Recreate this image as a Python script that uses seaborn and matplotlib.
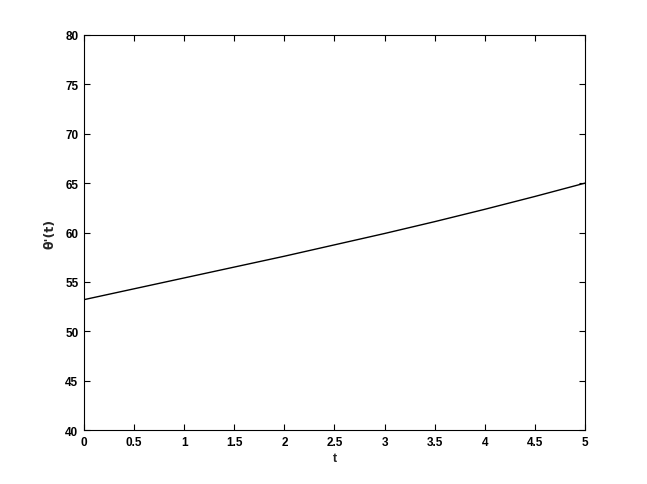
import numpy as np
import pandas as pd
import seaborn as sns
import matplotlib.pyplot as plt

# values
t = [0, 0.5, 1, 1.5, 2, 2.5, 3, 3.5, 4, 4.5, 5]
theta_dot = [53.2, 54.3, 55.4, 56.5, 57.6, 58.75, 59.9, 61.1, 62.35, 63.65, 65.0]
xticks = [0, 0.5, 1, 1.5, 2, 2.5, 3, 3.5, 4, 4.5, 5]
yticks = [40, 45, 50, 55, 60, 65, 70, 75, 80]

df = pd.DataFrame({'t': t, 'theta': theta_dot})

sns.set_style('white')
plt.rcParams['font.family'] = ['Liberation Sans', 'DejaVu Sans']

fig = plt.figure(figsize=(6.47, 4.85), dpi=100)
ax = fig.add_axes([0.1298, 0.1113, 0.7744, 0.8145])

sns.lineplot(data=df, x='t', y='theta', color='black', linewidth=1, ax=ax)

ax.set_xlim(0, 5)
ax.set_ylim(40, 80)
ax.set_xticks(xticks)
ax.set_xticklabels(['0', '0.5', '1', '1.5', '2', '2.5', '3', '3.5', '4', '4.5', '5'],
                   fontweight='bold', fontsize=8.5)
ax.set_yticks(yticks)
ax.set_yticklabels([str(v) for v in yticks], fontweight='bold', fontsize=8.5)
ax.tick_params(direction='in', length=4, width=0.8, top=True, right=True,
               bottom=True, left=True, colors='black', pad=4)
for s in ax.spines.values():
    s.set_color('black')
    s.set_linewidth(0.8)

ax.set_xlabel('t', fontweight='bold', fontsize=9, labelpad=3)
ax.set_ylabel("θ'(t)", fontweight='bold', fontsize=9, labelpad=6,
              family=['DejaVu Sans'])

fig.savefig('out.png', dpi=100)
